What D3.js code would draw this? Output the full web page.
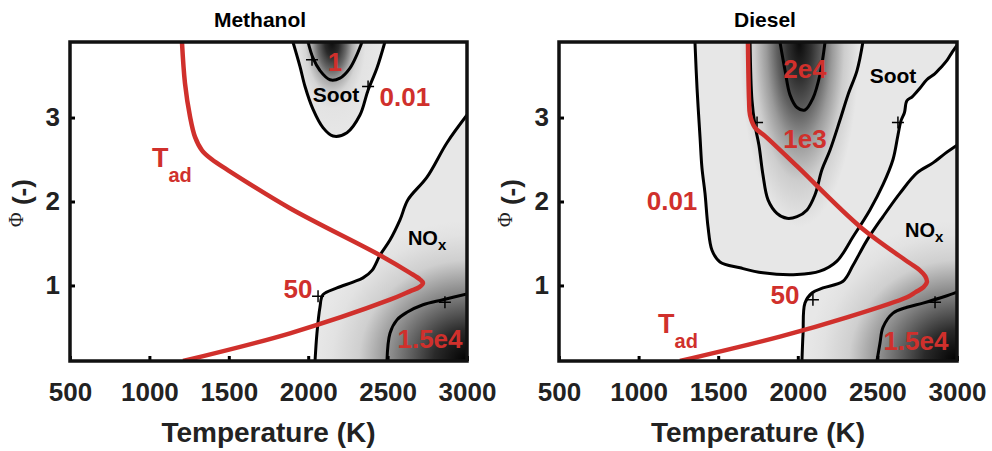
<!DOCTYPE html>
<html>
<head>
<meta charset="utf-8">
<script src="https://cdn.jsdelivr.net/npm/d3@7"></script>
<style>
  body { margin: 0; background: #fff; }
  text { font-family: Arial, "Liberation Sans", sans-serif; font-weight: bold; }
</style>
</head>
<body>
<script>
// axis ticks
var tempTicks = [500, 1000, 1500, 2000, 2500, 3000];
var phiTicks = [1, 2, 3];
var tempDomain = [500, 3000];
var phiDomain = [0.1, 3.9];

// ---- Methanol, [T (K), phi]
var methTad = [[1205,3.9],[1224,3.41],[1256,3.01],[1287,2.77],[1331,2.61],[1394,2.5],[1489,2.38],
  [1885,1.92],[2452,1.36],[2641,1.15],[2705,1.07],[2723,1.03],[2700,0.98],[2640,0.93],[2515,0.83],[1885,0.43],[1212,0.1]];
var methSoot001 = [[1904,3.9],[1948,3.61],[1980,3.37],[2030,3.1],[2093,2.88],[2156,2.78],[2244,2.82],
  [2326,3.03],[2376,3.32],[2433,3.59],[2483,3.9]];
var methSoot1 = [[1999,3.9],[2030,3.71],[2074,3.56],[2137,3.45],[2200,3.47],[2263,3.59],[2307,3.75],[2339,3.9]];
var methNox50 = [[2043,0.1],[2055,0.43],[2074,0.74],[2093,0.89],[2181,0.97],[2282,1.04],[2345,1.09],
  [2402,1.18],[2452,1.36],[2515,1.54],[2578,1.78],[2628,2.02],[2748,2.29],[2874,2.7],[3000,3.03]];
var methNox15e4 = [[2496,0.1],[2515,0.43],[2559,0.59],[2622,0.68],[2723,0.77],[2849,0.83],[3000,0.9]];

// ---- Diesel
var dieselTad = [[1687,3.9],[1694,3.2],[1700,3.03],[1731,2.88],[1800,2.77],[1995,2.42],[2391,1.7],
  [2700,1.27],[2767,1.18],[2800,1.11],[2811,1.04],[2790,0.98],[2740,0.92],[2686,0.86],[2309,0.62],[1888,0.39],[1260,0.1]];
var dieselSoot001 = [[1354,3.9],[1367,3.35],[1386,2.76],[1398,2.4],[1417,2.1],[1436,1.7],[1461,1.42],
  [1511,1.28],[1637,1.21],[1781,1.15],[1995,1.13],[2139,1.17],[2246,1.29],[2347,1.58],[2453,1.9],
  [2535,2.2],[2598,2.5],[2629,2.79],[2648,2.96],[2670,3.06],[2685,3.2],[2720,3.25],[2767,3.35],
  [2810,3.45],[2860,3.52],[2900,3.6],[2937,3.68],[2970,3.78],[3000,3.86]];
var dieselSoot1e3 = [[1700,3.9],[1712,3.21],[1731,2.91],[1756,2.67],[1781,2.32],[1813,2.02],[1869,1.86],
  [1932,1.8],[1995,1.82],[2058,1.9],[2108,2.08],[2152,2.38],[2202,2.61],[2265,2.97],[2315,3.27],[2372,3.56],[2409,3.9]];
var dieselSoot2e4 = [[1888,3.9],[1920,3.56],[1951,3.27],[1995,3.12],[2045,3.09],[2095,3.23],[2139,3.51],[2171,3.9]];
var dieselNox50 = [[2026,0.1],[2033,0.43],[2045,0.79],[2089,0.91],[2158,0.97],[2284,1.05],[2347,1.24],
  [2435,1.54],[2535,1.82],[2642,2.1],[2749,2.34],[2849,2.46],[2924,2.57],[3000,2.67]];
var dieselNox15e4 = [[2497,0.1],[2516,0.31],[2535,0.5],[2598,0.67],[2686,0.74],[2786,0.79],[2893,0.85],[3000,0.92]];

// contour labels: [text, T, phi]
var methLabels = [["1",2169,3.56],["0.01",2609,3.14],["50",1936,0.85],["1.5e4",2767,0.26]];
var methMarks = [[2024,3.69],[2377,3.37],[2062,0.87],[2861,0.8]];
var dieselLabels = [["2e4",2045,3.47],["1e3",2045,2.64],["0.01",1210,1.9],["50",1920,0.78],["1.5e4",2742,0.23]];
var dieselMarks = [[1744,2.94],[2629,2.94],[2095,0.83],[2862,0.8]];

var red = "#d0302c";
var lightGray = "#e7e7e7";

var svg = d3.select("body").append("svg")
    .attr("width", 992)
    .attr("height", 451);
var defs = svg.append("defs");

var panels = [
  { id: "m", title: "Methanol", titleX: 260, left: 70, right: 467,
    tad: methTad, tadLabel: [1016, 2.41],
    soot: methSoot001, sootClose: [], sootInner: [methSoot1],
    sootGrad: { c: [2150, 3.9], rx: 48, ry: 95,
      stops: [[0, "#0d0d0d"], [0.15, "#2a2a2a"], [0.3, "#6a6a6a"], [0.42, "#aaaaaa"], [0.55, "#d4d4d4"], [0.7, "#e3e3e3"], [1, lightGray]] },
    nox: methNox50, noxInner: methNox15e4,
    labels: methLabels, marks: methMarks,
    sootText: [2175, 3.18], noxText: [2628, 1.48] },
  { id: "d", title: "Diesel", titleX: 765, left: 559, right: 957,
    tad: dieselTad, tadLabel: [1122, 0.43],
    soot: dieselSoot001, sootClose: [[3000, 3.9]], sootInner: [dieselSoot1e3, dieselSoot2e4],
    sootGrad: { c: [2010, 3.9], rx: 60, ry: 185,
      stops: [[0, "#0a0a0a"], [0.2, "#303030"], [0.38, "#606060"], [0.55, "#9a9a9a"], [0.75, "#cdcdcd"], [1, lightGray]] },
    nox: dieselNox50, noxInner: dieselNox15e4,
    labels: dieselLabels, marks: dieselMarks,
    sootText: [2598, 3.41], noxText: [2673, 1.58] }
];

var plotTop = 42, plotBottom = 361;

panels.forEach(function(p) {
  var x = d3.scaleLinear().domain(tempDomain).range([p.left, p.right]);
  var y = d3.scaleLinear().domain(phiDomain).range([plotBottom, plotTop]);
  var line = d3.line()
      .x(function(d) { return x(d[0]); })
      .y(function(d) { return y(d[1]); })
      .curve(d3.curveCatmullRom.alpha(0.5));

  var g = svg.append("g");

  defs.append("clipPath").attr("id", "clip" + p.id)
    .append("rect")
      .attr("x", p.left).attr("y", plotTop)
      .attr("width", p.right - p.left).attr("height", plotBottom - plotTop);

  // gradients (elliptical radial)
  function radial(id, cx, cy, rx, ry, stops) {
    var gr = defs.append("radialGradient")
        .attr("id", id)
        .attr("gradientUnits", "userSpaceOnUse")
        .attr("cx", 0).attr("cy", 0).attr("r", 1)
        .attr("gradientTransform", "translate(" + cx + "," + cy + ") scale(" + rx + "," + ry + ")");
    stops.forEach(function(s) {
      gr.append("stop").attr("offset", s[0]).attr("stop-color", s[1]);
    });
  }
  radial("nox" + p.id, x(3000), y(0.1), 150, 140,
    [[0, "#000"], [0.22, "#2a2a2a"], [0.5, "#8a8a8a"], [0.72, "#cfcfcf"], [0.9, "#e2e2e2"], [1, lightGray]]);
  radial("soot" + p.id, x(p.sootGrad.c[0]), y(p.sootGrad.c[1]), p.sootGrad.rx, p.sootGrad.ry, p.sootGrad.stops);

  var plot = g.append("g").attr("clip-path", "url(#clip" + p.id + ")");

  // filled regions
  var sootPath = line(p.soot) + p.sootClose.map(function(d) { return "L" + x(d[0]) + "," + y(d[1]); }).join("") + "Z";
  plot.append("path").attr("d", sootPath).attr("fill", "url(#soot" + p.id + ")");
  var noxPath = line(p.nox) + "L" + x(3000) + "," + y(0.1) + "Z";
  plot.append("path").attr("d", noxPath).attr("fill", "url(#nox" + p.id + ")");

  // contour lines
  [p.soot].concat(p.sootInner, [p.nox, p.noxInner]).forEach(function(c) {
    plot.append("path")
      .attr("d", line(c))
      .attr("fill", "none")
      .attr("stroke", "#000")
      .attr("stroke-width", 3)
      .attr("stroke-linejoin", "round");
  });

  // clabel markers
  p.marks.forEach(function(m) {
    var cx = x(m[0]), cy = y(m[1]);
    plot.append("path")
      .attr("d", "M" + (cx - 6) + "," + cy + "H" + (cx + 6) + "M" + cx + "," + (cy - 6) + "V" + (cy + 6))
      .attr("stroke", "#000").attr("stroke-width", 1.5);
  });

  // adiabatic flame temperature
  plot.append("path")
    .attr("d", line(p.tad))
    .attr("fill", "none")
    .attr("stroke", red)
    .attr("stroke-width", 4.5)
    .attr("stroke-linejoin", "round");

  // contour labels
  p.labels.forEach(function(l) {
    g.append("text")
      .attr("x", x(l[1])).attr("y", y(l[2]))
      .attr("text-anchor", "middle")
      .attr("font-size", 26)
      .attr("fill", red)
      .text(l[0]);
  });

  var tl = g.append("text")
      .attr("x", x(p.tadLabel[0])).attr("y", y(p.tadLabel[1]))
      .attr("fill", red);
  tl.append("tspan").attr("font-size", 27).text("T");
  tl.append("tspan").attr("font-size", 20).attr("dy", 15).text("ad");

  g.append("text")
    .attr("x", x(p.sootText[0])).attr("y", y(p.sootText[1]))
    .attr("text-anchor", "middle")
    .attr("font-size", 21)
    .text("Soot");

  var nt = g.append("text")
      .attr("x", x(p.noxText[0])).attr("y", y(p.noxText[1]));
  nt.append("tspan").attr("font-size", 20).text("NO");
  nt.append("tspan").attr("font-size", 15).attr("dy", 5).text("x");

  // axes (ticks point inward)
  var xAxis = g.append("g")
      .attr("transform", "translate(0," + plotBottom + ")")
      .call(d3.axisBottom(x).tickValues(tempTicks).tickSize(-5).tickPadding(22).tickFormat(d3.format("d")));
  var yAxis = g.append("g")
      .attr("transform", "translate(" + p.left + ",0)")
      .call(d3.axisLeft(y).tickValues(phiTicks).tickSize(-5).tickPadding(10).tickFormat(d3.format("d")));
  [xAxis, yAxis].forEach(function(a) {
    a.select(".domain").remove();
    a.selectAll(".tick line").attr("stroke", "#000").attr("stroke-width", 3);
    a.selectAll(".tick text")
      .attr("fill", "#222")
      .attr("font-size", 26)
      .attr("font-family", "Arial, 'Liberation Sans', sans-serif")
      .attr("font-weight", "bold");
  });

  // frame
  g.append("rect")
    .attr("x", p.left).attr("y", plotTop)
    .attr("width", p.right - p.left).attr("height", plotBottom - plotTop)
    .attr("fill", "none")
    .attr("stroke", "#111")
    .attr("stroke-width", 3.5);

  // titles
  g.append("text")
    .attr("x", p.titleX).attr("y", 27)
    .attr("text-anchor", "middle")
    .attr("font-size", 21)
    .text(p.title);

  g.append("text")
    .attr("x", (p.left + p.right) / 2).attr("y", 442)
    .attr("text-anchor", "middle")
    .attr("font-size", 28)
    .attr("fill", "#222")
    .text("Temperature (K)");

  var yl = g.append("text")
      .attr("transform", "translate(" + (p.left - 39) + ",203) rotate(-90)")
      .attr("text-anchor", "middle")
      .attr("fill", "#222");
  yl.append("tspan")
    .attr("font-family", "'Liberation Serif', 'DejaVu Serif', serif")
    .attr("font-weight", "normal")
    .attr("font-size", 20)
    .attr("dy", -8)
    .text("\u03A6");
  yl.append("tspan").attr("font-size", 26).attr("dy", 8).text(" (-)");
});
</script>
</body>
</html>
